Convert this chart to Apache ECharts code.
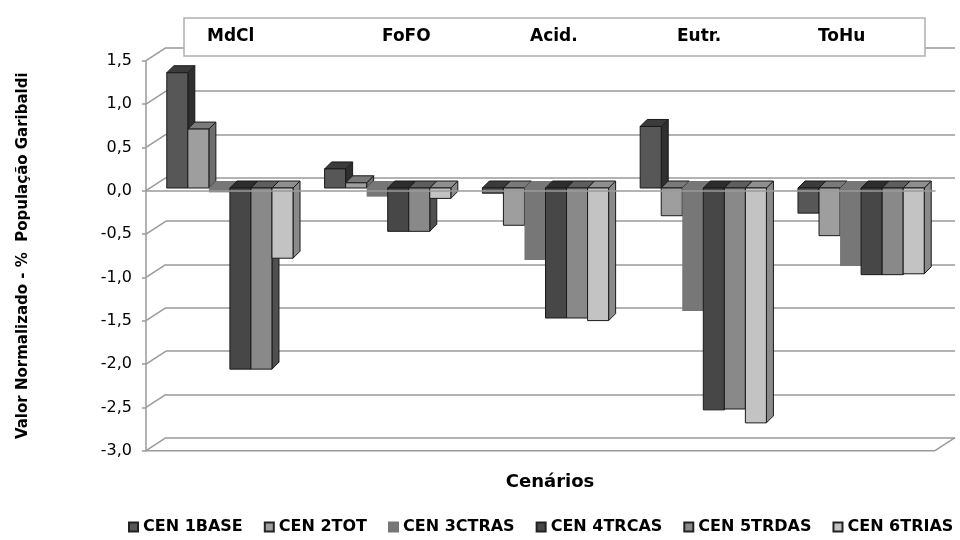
<!DOCTYPE html>
<html><head><meta charset="utf-8">
<script src="https://cdn.jsdelivr.net/npm/echarts@6/dist/echarts.min.js"></script>
<style>html,body{margin:0;padding:0;background:#fff}#c{width:960px;height:540px}</style>
</head><body><div id="c"></div>
<script>
// ---- data ----
var categories = ['MdCl', 'FoFO', 'Acid.', 'Eutr.', 'ToHu'];
var seriesNames = ['CEN 1BASE', 'CEN 2TOT', 'CEN 3CTRAS', 'CEN 4TRCAS', 'CEN 5TRDAS', 'CEN 6TRIAS'];
var cen1 = [1.33, 0.22, -0.06, 0.71, -0.29];
var cen2 = [0.68, 0.06, -0.43, -0.32, -0.55];
var cen3 = [-0.05, -0.10, -0.83, -1.42, -0.90];
var cen4 = [-2.09, -0.50, -1.50, -2.56, -1.00];
var cen5 = [-2.09, -0.50, -1.50, -2.55, -1.00];
var cen6 = [-0.81, -0.12, -1.53, -2.71, -0.99];
var yTicks = [1.5, 1.0, 0.5, 0, -0.5, -1.0, -1.5, -2.0, -2.5, -3.0];
var yAxisTitle = 'Valor Normalizado - %  População Garibaldi';
var xAxisTitle = 'Cenários';

// ---- styles ----
var values = [cen1, cen2, cen3, cen4, cen5, cen6];
var faces = [
  {front: '#575757', top: '#3b3b3b', side: '#2f2f2f', stroke: true},
  {front: '#9e9e9e', top: '#7a7a7a', side: '#6e6e6e', stroke: true},
  {front: '#777777', top: '#777777', side: '#6c6c6c', stroke: false},
  {front: '#474747', top: '#2d2d2d', side: '#262626', stroke: true},
  {front: '#898989', top: '#5e5e5e', side: '#4f4f4f', stroke: true},
  {front: '#c3c3c3', top: '#8f8f8f', side: '#8a8a8a', stroke: true}
];
var FONT = '"DejaVu Sans", sans-serif';
var DX = 7, DY = 7, OFFX = 5, OFFY = -2.7;   // bar depth / placement
var WX = 20, WY = 13;                        // wall depth
var nS = seriesNames.length;

function barRender(si) {
  var f = faces[si];
  return function (params, api) {
    var ci = api.value(0), v = api.value(1);
    var base = api.coord([ci, 0]);
    var top = api.coord([ci, v]);
    var band = api.size([1, 0])[0];
    var w = band * 0.8 / nS;
    var x = base[0] - band * 0.4 + si * w + OFFX;
    var y0 = base[1] + OFFY, y1 = top[1] + OFFY;
    var yt = Math.min(y0, y1), yb = Math.max(y0, y1);
    var st = f.stroke ? {stroke: '#1a1a1a', lineWidth: 1} : {stroke: null, lineWidth: 0};
    function sty(fill) { return {fill: fill, stroke: st.stroke, lineWidth: st.lineWidth, lineJoin: 'round'}; }
    return {
      type: 'group',
      children: [
        {type: 'polygon', shape: {points: [[x + w, yt], [x + w + DX, yt - DY], [x + w + DX, yb - DY], [x + w, yb]]}, style: sty(f.side)},
        {type: 'polygon', shape: {points: [[x, yt], [x + DX, yt - DY], [x + w + DX, yt - DY], [x + w, yt]]}, style: sty(f.top)},
        {type: 'rect', shape: {x: x, y: yt, width: w, height: yb - yt}, style: sty(f.front)}
      ]
    };
  };
}

function decorRender(params, api) {
  var v = api.value(0);
  var cs = params.coordSys;
  var y = api.coord([0, v])[1];
  var lineStyle = {stroke: '#9a9a9a', lineWidth: 1.5, fill: null};
  var ch = [{type: 'line', shape: {x1: cs.x, y1: y, x2: cs.x + WX, y2: y - WY}, style: lineStyle}];
  if (v === yTicks[yTicks.length - 1]) {
    ch.push({type: 'line', shape: {x1: cs.x, y1: y, x2: cs.x + cs.width, y2: y}, style: lineStyle});
    ch.push({type: 'line', shape: {x1: cs.x + cs.width, y1: y, x2: cs.x + cs.width + WX, y2: y - WY}, style: lineStyle});
  }
  return {type: 'group', children: ch};
}

var series = [{
  type: 'custom', name: 'decor', xAxisIndex: 0, yAxisIndex: 0, z: 1, silent: true,
  renderItem: decorRender, data: yTicks.map(function (t) { return [t]; }),
  encode: {y: 0}
}];
for (var s = 0; s < nS; s++) {
  series.push({
    type: 'custom', name: seriesNames[s], xAxisIndex: 0, yAxisIndex: 0, z: 2,
    renderItem: barRender(s),
    itemStyle: {color: faces[s].front, borderColor: faces[s].stroke ? '#222' : faces[s].front, borderWidth: 1},
    encode: {x: 0, y: 1},
    data: categories.map(function (c, i) { return [i, values[s][i]]; })
  });
}

// title box with category names
var segW = [175, 148, 147, 141, 107];
var rich = {};
var titleText = categories.map(function (c, i) {
  rich['s' + i] = {width: segW[i], align: 'left', fontFamily: FONT, fontWeight: 'bold', fontSize: 17, color: '#000', lineHeight: 20};
  return '{s' + i + '|' + c + '}';
}).join('');

var chart = echarts.init(document.getElementById('c'), null, {renderer: 'canvas'});
chart.setOption({
  animation: false,
  backgroundColor: '#fff',
  title: {
    text: titleText, left: 184, top: 16, padding: [11, 0, 11, 23],
    borderColor: '#b0b0b0', borderWidth: 1.5, backgroundColor: '#fff',
    textStyle: {rich: rich, fontSize: 17, fontWeight: 'bold', fontFamily: FONT}
  },
  grid: [
    {left: 146, right: 25, top: 60.7, bottom: 89.3},
    {left: 166, right: 5, top: 47.7, bottom: 102.3}
  ],
  xAxis: [
    {type: 'category', gridIndex: 0, data: categories, z: 5,
      axisLine: {show: true, onZero: true, lineStyle: {color: '#9a9a9a', width: 1.5}},
      axisTick: {show: false}, axisLabel: {show: false}, splitLine: {show: false}},
    {type: 'category', gridIndex: 1, data: categories, show: false}
  ],
  yAxis: [
    {type: 'value', gridIndex: 0, min: -3, max: 1.5, interval: 0.5,
      name: yAxisTitle, nameLocation: 'middle', nameGap: 115, nameRotate: 90,
      nameTextStyle: {fontFamily: FONT, fontWeight: 'bold', fontSize: 15, color: '#000'},
      axisLine: {show: true, lineStyle: {color: '#9a9a9a', width: 1.5}},
      axisTick: {show: true, length: 4, lineStyle: {color: '#9a9a9a', width: 1.5}},
      axisLabel: {margin: 14, fontFamily: FONT, fontSize: 16, color: '#000',
        formatter: function (v) { return v.toFixed(1).replace('.', ','); }},
      splitLine: {show: false}},
    {type: 'value', gridIndex: 1, min: -3, max: 1.5, interval: 0.5,
      axisLine: {show: false}, axisTick: {show: false}, axisLabel: {show: false},
      splitLine: {show: true, lineStyle: {color: '#9a9a9a', width: 1.5}}}
  ],
  legend: {
    data: seriesNames, left: 128, right: 0, top: 519, icon: 'rect',
    itemWidth: 9, itemHeight: 9, itemGap: 21, padding: 0,
    textStyle: {fontFamily: FONT, fontWeight: 'bold', fontSize: 16, color: '#000'}
  },
  graphic: [{
    type: 'text', x: 550, y: 482,
    style: {text: xAxisTitle, font: 'bold 18px "DejaVu Sans", sans-serif', fill: '#000', align: 'center', verticalAlign: 'middle'}
  }],
  series: series
});
</script>
</body></html>
